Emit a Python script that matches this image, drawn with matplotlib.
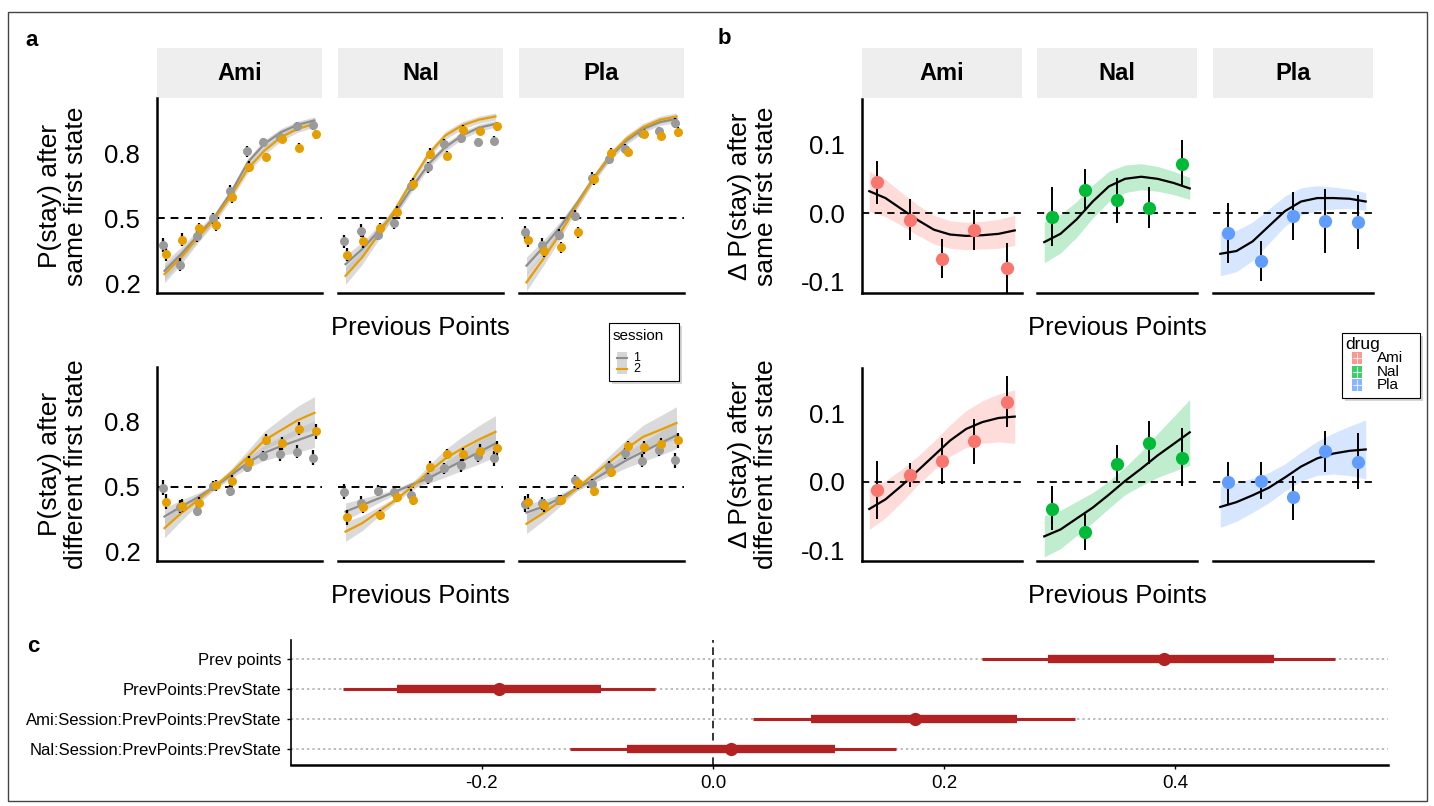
import matplotlib.pyplot as plt
from matplotlib.patches import Rectangle
import numpy as np

W, H = 1434, 806
plt.rcParams['font.family'] = ['Liberation Sans', 'DejaVu Sans']

drugs = ['Ami', 'Nal', 'Pla']

# ---------------- panel a: P(stay), sessions 1 and 2 ----------------
a_x = np.arange(1, 11)

a_same_pts1 = {'Ami': [0.377, 0.286, 0.417, 0.50, 0.628, 0.808, 0.851, 0.874, 0.923, 0.928],
               'Nal': [0.394, 0.443, 0.425, 0.477, 0.650, 0.735, 0.843, 0.869, 0.851, 0.858],
               'Pla': [0.435, 0.378, 0.425, 0.512, 0.686, 0.774, 0.820, 0.892, 0.900, 0.940]}
a_same_pts2 = {'Ami': [0.335, 0.402, 0.455, 0.468, 0.597, 0.737, 0.783, 0.866, 0.825, 0.886],
               'Nal': [0.332, 0.394, 0.455, 0.531, 0.660, 0.797, 0.789, 0.908, 0.902, 0.923],
               'Pla': [0.400, 0.350, 0.366, 0.435, 0.680, 0.800, 0.805, 0.889, 0.880, 0.897]}
a_same_fit1 = {'Ami': [0.258, 0.335, 0.420, 0.505, 0.620, 0.758, 0.843, 0.897, 0.931, 0.951],
               'Nal': [0.289, 0.358, 0.443, 0.528, 0.643, 0.751, 0.828, 0.882, 0.917, 0.935],
               'Pla': [0.282, 0.366, 0.458, 0.566, 0.682, 0.782, 0.858, 0.912, 0.943, 0.958]}
a_same_fit2 = {'Ami': [0.243, 0.320, 0.412, 0.497, 0.605, 0.728, 0.812, 0.874, 0.912, 0.935],
               'Nal': [0.235, 0.320, 0.428, 0.543, 0.674, 0.797, 0.882, 0.928, 0.954, 0.969],
               'Pla': [0.205, 0.312, 0.428, 0.558, 0.682, 0.789, 0.866, 0.920, 0.954, 0.969]}

a_diff_pts1 = {'Ami': [0.495, 0.408, 0.389, 0.503, 0.482, 0.592, 0.642, 0.651, 0.662, 0.635],
               'Nal': [0.477, 0.426, 0.482, 0.477, 0.462, 0.538, 0.585, 0.600, 0.642, 0.631],
               'Pla': [0.420, 0.423, 0.438, 0.531, 0.512, 0.592, 0.654, 0.620, 0.672, 0.623]}
a_diff_pts2 = {'Ami': [0.431, 0.411, 0.426, 0.506, 0.528, 0.615, 0.718, 0.700, 0.769, 0.757],
               'Nal': [0.358, 0.408, 0.369, 0.454, 0.438, 0.592, 0.651, 0.649, 0.666, 0.677],
               'Pla': [0.431, 0.415, 0.438, 0.515, 0.482, 0.569, 0.688, 0.682, 0.697, 0.715]}
a_diff_fit1 = {'Ami': [0.362, 0.408, 0.451, 0.500, 0.554, 0.611, 0.657, 0.688, 0.715, 0.743],
               'Nal': [0.385, 0.415, 0.446, 0.477, 0.510, 0.540, 0.580, 0.620, 0.660, 0.700],
               'Pla': [0.380, 0.408, 0.446, 0.492, 0.531, 0.577, 0.623, 0.662, 0.700, 0.738]}
a_diff_fit2 = {'Ami': [0.308, 0.377, 0.438, 0.500, 0.565, 0.638, 0.715, 0.762, 0.808, 0.842],
               'Nal': [0.292, 0.331, 0.385, 0.438, 0.500, 0.569, 0.631, 0.677, 0.718, 0.754],
               'Pla': [0.328, 0.377, 0.431, 0.492, 0.554, 0.615, 0.677, 0.731, 0.762, 0.795]}

# half widths of the fit ribbons and of the error bars
a_same_band = [0.040, 0.032, 0.025, 0.020, 0.018, 0.018, 0.018, 0.017, 0.016, 0.016]
a_diff_band1 = [0.040, 0.030, 0.020, 0.012, 0.015, 0.025, 0.035, 0.045, 0.055, 0.062]
a_diff_band2 = [0.045, 0.035, 0.022, 0.012, 0.018, 0.030, 0.042, 0.054, 0.065, 0.075]
a_same_err = [0.030, 0.030, 0.025, 0.025, 0.025, 0.025, 0.020, 0.020, 0.020, 0.022]
a_diff_err = [0.035, 0.030, 0.025, 0.025, 0.025, 0.025, 0.025, 0.030, 0.030, 0.035]

# ---------------- panel b: delta P(stay) by drug ----------------
b_x = [1, 2, 3, 4, 5]
b_fx = [0.75, 1.25, 1.75, 2.25, 2.75, 3.25, 3.75, 4.25, 4.75, 5.25]

b_same_pts = {'Ami': [0.045, -0.010, -0.066, -0.025, -0.080],
              'Nal': [-0.005, 0.034, 0.019, 0.008, 0.072],
              'Pla': [-0.029, -0.070, -0.004, -0.012, -0.013]}
b_same_lo = {'Ami': [0.013, -0.039, -0.094, -0.054, -0.117],
             'Nal': [-0.048, 0.004, -0.014, -0.021, 0.039],
             'Pla': [-0.072, -0.099, -0.039, -0.058, -0.052]}
b_same_hi = {'Ami': [0.076, 0.020, -0.037, 0.004, -0.043],
             'Nal': [0.038, 0.064, 0.051, 0.038, 0.107],
             'Pla': [0.015, -0.041, 0.031, 0.035, 0.026]}
b_same_fit = {'Ami': [0.032, 0.022, 0.006, -0.010, -0.024, -0.031, -0.033, -0.032, -0.030, -0.025],
              'Nal': [-0.042, -0.030, -0.009, 0.017, 0.039, 0.050, 0.053, 0.050, 0.044, 0.036],
              'Pla': [-0.059, -0.055, -0.041, -0.019, 0.003, 0.017, 0.022, 0.022, 0.021, 0.017]}
b_same_band = {'Ami': [0.029, 0.027, 0.024, 0.022, 0.021, 0.020, 0.020, 0.020, 0.021, 0.022],
               'Nal': [0.030, 0.028, 0.026, 0.024, 0.022, 0.020, 0.019, 0.018, 0.017, 0.016],
               'Pla': [0.032, 0.030, 0.028, 0.025, 0.022, 0.020, 0.018, 0.016, 0.014, 0.013]}

b_diff_pts = {'Ami': [-0.012, 0.009, 0.030, 0.059, 0.117],
              'Nal': [-0.040, -0.074, 0.026, 0.056, 0.035],
              'Pla': [-0.001, 0.001, -0.023, 0.044, 0.029]}
b_diff_lo = {'Ami': [-0.054, -0.008, -0.004, 0.026, 0.080],
             'Nal': [-0.071, -0.100, 0.001, 0.025, -0.006],
             'Pla': [-0.032, -0.026, -0.056, 0.014, -0.011]}
b_diff_hi = {'Ami': [0.030, 0.027, 0.063, 0.091, 0.154],
             'Nal': [-0.006, -0.048, 0.053, 0.088, 0.078],
             'Pla': [0.029, 0.029, 0.008, 0.074, 0.071]}
b_diff_fit = {'Ami': [-0.040, -0.026, -0.006, 0.016, 0.038, 0.060, 0.077, 0.087, 0.093, 0.095],
              'Nal': [-0.080, -0.070, -0.054, -0.038, -0.019, 0.001, 0.019, 0.038, 0.055, 0.072],
              'Pla': [-0.037, -0.030, -0.020, -0.009, 0.006, 0.022, 0.034, 0.041, 0.045, 0.047]}
b_diff_band = {'Ami': [0.030, 0.027, 0.024, 0.021, 0.021, 0.023, 0.027, 0.031, 0.035, 0.039],
               'Nal': [0.030, 0.028, 0.025, 0.022, 0.020, 0.020, 0.025, 0.032, 0.040, 0.048],
               'Pla': [0.030, 0.028, 0.025, 0.022, 0.020, 0.021, 0.025, 0.030, 0.036, 0.043]}

# ---------------- panel c: coefficients ----------------
c_terms = ['Prev points', 'PrevPoints:PrevState',
           'Ami:Session:PrevPoints:PrevState', 'Nal:Session:PrevPoints:PrevState']
c_est = [0.390, -0.185, 0.175, 0.016]
c_lo50 = [0.290, -0.273, 0.085, -0.074]
c_hi50 = [0.485, -0.097, 0.263, 0.106]
c_lo95 = [0.233, -0.320, 0.035, -0.124]
c_hi95 = [0.538, -0.050, 0.313, 0.158]

drug_col = {'Ami': '#F8766D', 'Nal': '#00BA38', 'Pla': '#619CFF'}
S1_COL = '#9A9A9A'
S2_COL = '#E69F00'
RED = '#B22222'

fig = plt.figure(figsize=(W / 100, H / 100), dpi=100)


def px_axes(x0, y0, x1, y1, **kw):
    return fig.add_axes([x0 / W, 1 - y1 / H, (x1 - x0) / W, (y1 - y0) / H], **kw)


def strip(x0, x1, label):
    s = px_axes(x0, 48, x1, 98)
    s.set_facecolor('#EEEEEE')
    for sp in s.spines.values():
        sp.set_visible(False)
    s.set_xticks([])
    s.set_yticks([])
    s.text(0.5, 0.5, label, transform=s.transAxes, ha='center', va='center',
           fontsize=17, fontweight='bold')


def facet_style(ax, first, ylim, ticks, labels):
    ax.set_ylim(*ylim)
    ax.spines['top'].set_visible(False)
    ax.spines['right'].set_visible(False)
    ax.spines['bottom'].set_linewidth(1.8)
    ax.spines['left'].set_linewidth(1.8)
    ax.set_xticks([])
    if first:
        ax.set_yticks(ticks)
        ax.set_yticklabels(labels)
        ax.tick_params(axis='y', length=0, labelsize=18.5, pad=12)
    else:
        ax.spines['left'].set_visible(False)
        ax.set_yticks([])


cols_a = [(157, 322), (338, 503), (519, 684)]
cols_b = [(862, 1022), (1037, 1197), (1213, 1373)]
rows = [(98, 293), (367, 561)]

# panel a
a_rows = [(a_same_pts1, a_same_pts2, a_same_fit1, a_same_fit2, a_same_band, a_same_band, a_same_err),
          (a_diff_pts1, a_diff_pts2, a_diff_fit1, a_diff_fit2, a_diff_band1, a_diff_band2, a_diff_err)]
for r, (y0, y1) in enumerate(rows):
    p1, p2, f1, f2, bd1, bd2, err = a_rows[r]
    for c, d in enumerate(drugs):
        x0, x1 = cols_a[c]
        if r == 0:
            strip(x0, x1, d)
        ax = px_axes(x0, y0, x1, y1)
        ax.set_xlim(0.55, 10.45)
        for fit, band in [(f1, bd1), (f2, bd2)]:
            fit_v = np.array(fit[d])
            ax.fill_between(a_x, fit_v - np.array(band), fit_v + np.array(band),
                            color='#BDBDBD', alpha=0.55, lw=0)
        ax.plot(a_x, f1[d], color='#8E8E8E', lw=1.6, zorder=3)
        ax.plot(a_x, f2[d], color=S2_COL, lw=1.6, zorder=3)
        ax.axhline(0.5, color='black', lw=1.4, ls=(0, (4, 3)), zorder=2)
        for pts, col, off in [(p1, S1_COL, -0.07), (p2, S2_COL, 0.07)]:
            ax.errorbar(a_x + off, pts[d], yerr=err, fmt='none', ecolor='black',
                        elinewidth=1.6, zorder=4)
            ax.plot(a_x + off, pts[d], 'o', color=col, ms=6.5, mec='none', zorder=5)
        facet_style(ax, c == 0, (0.156, 1.054), [0.2, 0.5, 0.8], ['0.2', '0.5', '0.8'])

# panel b
b_rows = [(b_same_pts, b_same_lo, b_same_hi, b_same_fit, b_same_band),
          (b_diff_pts, b_diff_lo, b_diff_hi, b_diff_fit, b_diff_band)]
for r, (y0, y1) in enumerate(rows):
    pts, lo, hi, fit, band = b_rows[r]
    for c, d in enumerate(drugs):
        x0, x1 = cols_b[c]
        if r == 0:
            strip(x0, x1, d)
        ax = px_axes(x0, y0 + 1, x1, y1)
        ax.set_xlim(0.525, 5.475)
        fit_v = np.array(fit[d])
        band_v = np.array(band[d])
        ax.fill_between(b_fx, fit_v - band_v, fit_v + band_v, color=drug_col[d], alpha=0.25, lw=0)
        ax.plot(b_fx, fit_v, color='black', lw=1.6, zorder=3)
        ax.axhline(0.0, color='black', lw=1.3, ls=(0, (4, 3)), zorder=2)
        ax.vlines(b_x, lo[d], hi[d], color='black', lw=1.4, zorder=4)
        ax.plot(b_x, pts[d], 'o', color=drug_col[d], ms=9.5, mec='none', zorder=5)
        facet_style(ax, c == 0, (-0.116, 0.166), [-0.1, 0.0, 0.1], ['-0.1', '0.0', '0.1'])

# axis titles for panels a and b
for xc, lines_top, lines_bot in [(63, 'P(stay) after\nsame first state', 'P(stay) after\ndifferent first state'),
                                 (753, '\u0394 P(stay) after\nsame first state', '\u0394 P(stay) after\ndifferent first state')]:
    fig.text(xc / W, 1 - 196 / H, lines_top, rotation=90, ha='center', va='center',
             fontsize=19, linespacing=1.15, multialignment='center')
    fig.text(xc / W, 1 - 464 / H, lines_bot, rotation=90, ha='center', va='center',
             fontsize=19, linespacing=1.15, multialignment='center')
for xc in [420, 1117]:
    for yc in [328, 596]:
        fig.text(xc / W, 1 - yc / H, 'Previous Points', ha='center', va='center', fontsize=18.5)

# panel c
axc = px_axes(291, 640, 1388, 765)
yy = np.arange(len(c_terms))[::-1] + 1
axc.set_xlim(-0.365, 0.584)
axc.set_ylim(0.47, 4.63)
for yv in yy:
    axc.axhline(yv, color='#AAAAAA', lw=1.1, ls=(0, (1.5, 2)), zorder=1)
axc.axvline(0, color='black', lw=1.1, ls=(0, (5, 3)), zorder=2)
axc.hlines(yy, c_lo95, c_hi95, color=RED, lw=2.2, zorder=3)
axc.hlines(yy, c_lo50, c_hi50, color=RED, lw=6, zorder=4)
axc.plot(c_est, yy, 'o', color=RED, ms=8.5, zorder=5)
axc.set_yticks(yy)
axc.set_yticklabels(c_terms, fontsize=12)
axc.set_xticks([-0.2, 0.0, 0.2, 0.4])
axc.set_xticklabels(['-0.2', '0.0', '0.2', '0.4'], fontsize=13.5)
axc.tick_params(axis='both', length=3, width=1, pad=4)
axc.spines['top'].set_visible(False)
axc.spines['right'].set_visible(False)
axc.spines['bottom'].set_linewidth(1.8)
axc.spines['left'].set_linewidth(1.2)

# overlay: border, panel letters, legends
ov = fig.add_axes([0, 0, 1, 1], zorder=10)
ov.set_xlim(0, W)
ov.set_ylim(H, 0)
ov.axis('off')
ov.add_patch(Rectangle((8, 12), 1419, 789, fill=False, ec='#444444', lw=1))
for lab, x, y in [('a', 32, 40), ('b', 724, 39), ('c', 33, 646)]:
    ov.text(x, y, lab, ha='center', va='center', fontsize=16, fontweight='bold')

# session legend
ov.add_patch(Rectangle((612, 326), 70, 58, fc='#BBBBBB', ec='none', alpha=0.6))
ov.add_patch(Rectangle((609, 323), 70, 58, fc='white', ec='black', lw=0.8))
ov.text(613, 336, 'session', fontsize=11, va='center', ha='left')
ov.add_patch(Rectangle((617, 352), 10, 22, fc='#D6D6D6', ec='none'))
ov.plot([617, 627], [358, 358], color='#8E8E8E', lw=1.5)
ov.plot([617, 627], [369, 369], color=S2_COL, lw=1.5)
ov.text(633, 358, '1', fontsize=9, va='center')
ov.text(633, 369, '2', fontsize=9, va='center')

# drug legend
ov.add_patch(Rectangle((1345, 336), 78, 65, fc='#BBBBBB', ec='none', alpha=0.6))
ov.add_patch(Rectangle((1342, 333), 78, 65, fc='white', ec='black', lw=0.8))
ov.text(1345, 344, 'drug', fontsize=12.5, va='center', ha='left')
for i, d in enumerate(drugs):
    yc = 358 + i * 13.5
    ov.add_patch(Rectangle((1352, yc - 6), 10, 12, fc=drug_col[d], ec='none', alpha=0.75))
    ov.plot([1353, 1361], [yc, yc], color='white', lw=0.8, alpha=0.7)
    ov.plot([1357, 1357], [yc - 5, yc + 5], color='white', lw=0.8, alpha=0.7)
    ov.text(1377, yc, d, fontsize=11, va='center', ha='left')

fig.savefig('out.png', dpi=100)
